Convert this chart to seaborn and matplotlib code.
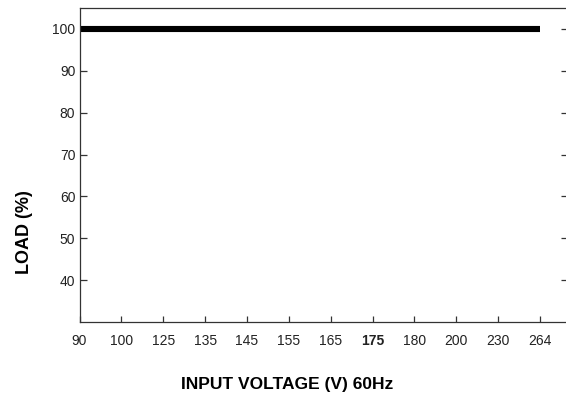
import numpy as np
import pandas as pd
import matplotlib
matplotlib.use("Agg")
import matplotlib.pyplot as plt
import seaborn as sns

# --- DATA ---
voltages = ["90", "100", "125", "135", "145", "155", "165", "175", "180", "200", "230", "264"]
load_pct = [100, 100, 100, 100, 100, 100, 100, 100, 100, 100, 100, 100]
y_ticks = [40, 50, 60, 70, 80, 90, 100]

df = pd.DataFrame({"pos": np.arange(len(voltages)), "load": load_pct})

# --- STYLE ---
sns.set_theme(style="ticks")
plt.rcParams['font.family'] = ['Liberation Sans', 'DejaVu Sans']

fig = plt.figure(figsize=(5.66, 4.01), dpi=100)
ax = fig.add_axes([0.1405, 0.197, 0.8625, 0.783])

sns.lineplot(data=df, x="pos", y="load", color="black", lw=4.4, ax=ax,
             legend=False, solid_capstyle="butt")

ax.set_xlim(0, 11.66)
ax.set_ylim(30, 105)
ax.set_xticks(df["pos"])
ax.set_xticklabels(voltages)
ax.set_yticks(y_ticks)

for lbl in ax.get_xticklabels():
    if lbl.get_text() == "175":
        lbl.set_fontweight("bold")

for s in ax.spines.values():
    s.set_linewidth(0.9)
    s.set_color("#333333")
ax.spines["right"].set_visible(False)

ax.tick_params(axis="x", direction="in", length=4.5, width=0.9, color="#333333",
               pad=8.5, labelsize=10, labelcolor="#222222")
ax.tick_params(axis="y", direction="in", length=5, width=0.9, color="#333333",
               pad=3, labelsize=10, labelcolor="#222222", right=True)

ax.set_xlabel("INPUT VOLTAGE (V) 60Hz", fontsize=12.5, fontweight="bold", color="black")
ax.set_ylabel("LOAD (%)", fontsize=13, fontweight="bold", color="black")
ax.xaxis.set_label_coords(0.426, -0.175)
ax.yaxis.set_label_coords(-0.0955, 0.288)

fig.savefig("out.png", dpi=100)
